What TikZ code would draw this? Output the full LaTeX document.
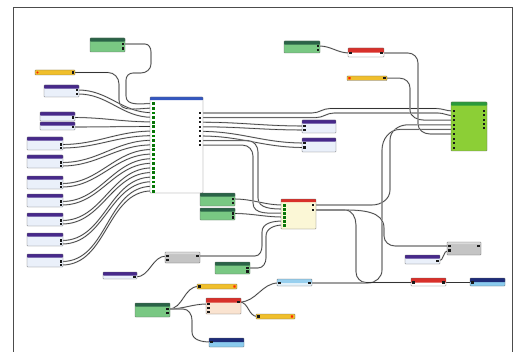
\documentclass[tikz,border=0pt]{standalone}
\usepackage{xcolor}
\usepackage{tikz}
\usetikzlibrary{backgrounds,calc}

\definecolor{hdrgreen}{HTML}{2A6347}
\definecolor{bodygreen}{HTML}{79C883}
\definecolor{hdrpurple}{HTML}{47298A}
\definecolor{bodypale}{HTML}{EAF0FA}
\definecolor{hdrblue}{HTML}{3457C0}
\definecolor{hdrlime}{HTML}{2A9A3A}
\definecolor{bodylime}{HTML}{8CCF36}
\definecolor{hdrred}{HTML}{D8302A}
\definecolor{bodycream}{HTML}{FBF7D6}
\definecolor{bodypeach}{HTML}{FAE3D0}
\definecolor{baryellow}{HTML}{F0BF2C}
\definecolor{hdrgray}{HTML}{DADADA}
\definecolor{bodygray}{HTML}{C4C4C4}
\definecolor{hdrsky}{HTML}{98D0EF}
\definecolor{bodysky}{HTML}{E2F1FA}
\definecolor{hdrnavy}{HTML}{1E2C78}
\definecolor{bodysky2}{HTML}{8ACBEE}

\begin{document}
\begin{tikzpicture}[
  x=0.05cm, y=-0.05cm,
  blk/.style={draw=black!60, line width=0.5pt, rounded corners=0.8pt, inner sep=0pt, outer sep=0pt, anchor=north west},
  hdr/.style n args={2}{path picture={\fill[#1] (path picture bounding box.north west) rectangle ([yshift=-#2]path picture bounding box.north east);}},
  wh/.style 2 args={minimum width=#1*0.05cm, minimum height=#2*0.05cm},
  greenblk/.style={blk, fill=bodygreen, hdr={hdrgreen}{5pt}},
  purpleblk/.style={blk, fill=bodypale, hdr={hdrpurple}{5pt}},
  mainblk/.style={blk, fill=white, hdr={hdrblue}{4.5pt}},
  limeblk/.style={blk, fill=bodylime, hdr={hdrlime}{5pt}},
  redwhite/.style={blk, fill=white, hdr={hdrred}{6.5pt}},
  creamblk/.style={blk, fill=bodycream, hdr={hdrred}{4.5pt}},
  peachblk/.style={blk, fill=bodypeach, hdr={hdrred}{6.5pt}},
  grayblk/.style={blk, fill=bodygray, hdr={hdrgray}{3pt}},
  skyblk/.style={blk, fill=bodysky, hdr={hdrsky}{5.5pt}},
  navyblk/.style={blk, fill=bodysky2, hdr={hdrnavy}{6pt}},
  yellowbar/.style={blk, fill=baryellow, draw=black!60},
  redend/.style={fill=red!70!orange, inner sep=0pt, minimum size=3.4pt, rounded corners=0.6pt},
  port/.style={fill=black!90, inner sep=0pt, minimum size=2.9pt},
  inport/.style={port, fill=black!80, draw=green!50!black, line width=0.4pt, minimum size=2.6pt},
  wire/.style={draw=black!80, line width=0.8pt, preaction={draw=black!22, line width=2pt}}
]
\useasboundingbox (0,0) rectangle (514,352);
\draw[black!70, line width=1.2pt] (13,352) -- (13,7) -- (512,7) -- (512,352);

% LEFT INPUT BLOCKS
\node[greenblk, wh={35}{14}] (g1) at (90,38) {};
\node[port] (g1a) at (123,44) {};
\node[port] (g1b) at (123,48.5) {};

\node[yellowbar, wh={40}{5}] (y1) at (35,70) {};
\node[redend, circle] (y1x) at (37.5,72.5) {};
\node[port] (y1a) at (73,72.5) {};

\node[purpleblk, wh={35}{12}] (p1) at (44,85) {};
\node[port] (pa1) at (77,90) {};
\node[port] (pb1) at (77,94) {};
\node[purpleblk, wh={35}{9}] (p2) at (40,112) {};
\node[port] (pa2) at (73,117.5) {};
\node[purpleblk, wh={35}{8}] (p3) at (40,122) {};
\node[port] (pa3) at (73,127) {};
\foreach \n/\y in {4/137,5/155,6/176,7/194,8/213,9/233,10/254} {
  \node[purpleblk, wh={36}{13}] (p\n) at (27,\y) {};
  \node[port] (pa\n) at (61,\y+7.5) {};
  \node[port] (pb\n) at (61,\y+11) {};
}

% MAIN BLOCK
\node[mainblk, wh={53}{96}] (main) at (150,97) {};
\foreach \i in {1,...,20} \node[inport] (mi\i) at (153,{103.5+4.6*(\i-1)}) {};
\foreach \j in {1,...,8} \node[port] (mo\j) at (200,{113+4.6*(\j-1)}) {};

% MIDDLE BLOCKS
\node[purpleblk, wh={34}{13}] (q1) at (302,120) {};
\node[port] (qa1) at (304.5,126) {};
\node[port] (qb1) at (304.5,130) {};
\node[purpleblk, wh={34}{14}] (q2) at (302,138) {};
\node[port] (qa2) at (304.5,143) {};
\node[port] (qb2) at (304.5,147.5) {};

\node[greenblk, wh={35}{13}] (gm1) at (200,193) {};
\node[port] (ma1) at (233,199) {};
\node[port] (mb1) at (233,203) {};
\node[greenblk, wh={35}{12}] (gm2) at (200,208) {};
\node[port] (ma2) at (233,213.5) {};
\node[port] (mb2) at (233,217.5) {};

\node[creamblk, wh={35}{30}] (cr) at (281,199) {};
\foreach \k in {1,...,6} \node[inport] (ci\k) at (284,{205+4*(\k-1)}) {};
\node[port] (co1) at (313,205) {};
\node[port] (co2) at (313,210) {};

% RIGHT BLOCK
\node[limeblk, wh={36}{49}] (gr) at (451,102) {};
\foreach \k in {1,...,9} \node[port] (gi\k) at (454,{111+4.6*(\k-1)}) {};
\foreach \k in {1,...,5} \node[port] (go\k) at (484,{111+4.3*(\k-1)}) {};

\node[greenblk, wh={36}{12}] (gt) at (284,41) {};
\node[port] (gta) at (318,46) {};
\node[port] (gtb) at (318,50) {};
\node[redwhite, wh={36}{9}] (rt) at (348,48) {};
\node[port] (rta) at (350.5,53) {};
\node[port] (rtb) at (381.5,53) {};
\node[yellowbar, wh={40}{4.5}] (yt) at (347,76) {};
\node[redend] (ytx) at (349.5,78.2) {};
\node[port] (yta) at (384.5,78.2) {};

% LOWER BLOCKS
\node[grayblk, wh={35}{11}] (gy) at (165,252) {};
\node[port] (gyin) at (167.5,256) {};
\node[port] (gyin2) at (167.5,260) {};
\node[port] (gyout) at (197.5,256) {};
\node[purpleblk, wh={34}{7}] (ps) at (103,272) {};
\node[port] (psout) at (134.5,277) {};
\node[greenblk, wh={35}{12}] (gb) at (215,262) {};
\node[port] (gba) at (247.5,268) {};
\node[port] (gbb) at (247.5,271.5) {};

\node[grayblk, wh={34}{13}] (gyr) at (447,242) {};
\node[port] (ra1) at (449.5,246) {};
\node[port] (ra2) at (449.5,250.5) {};
\node[port] (rout) at (478.5,246) {};
\node[purpleblk, wh={35}{9}] (pr) at (405,255) {};
\node[port] (prout) at (437.5,261) {};
\node[skyblk, wh={35}{7}] (lb) at (277,279) {};
\node[port] (lbin) at (279.5,283) {};
\node[port] (lbout) at (309.5,283) {};
\node[redwhite, wh={35}{8}] (rr) at (411,278) {};
\node[port] (rrin) at (413.5,282.5) {};
\node[port] (rrout) at (443.5,282.5) {};
\node[navyblk, wh={35}{8}] (db2) at (470,278) {};
\node[port] (dbin2) at (472.5,282.5) {};

\node[yellowbar, wh={40}{5}] (yb1) at (197,284) {};
\node[port] (yb1in) at (199.5,286.5) {};
\node[redend] (yb1x) at (234.5,286.5) {};
\node[greenblk, wh={35}{14}] (gb2) at (135,303) {};
\node[port] (gb2a) at (167.5,309) {};
\node[port] (gb2b) at (167.5,313) {};
\node[peachblk, wh={35}{16}] (rc) at (206,298) {};
\node[port] (rcin1) at (208.5,304) {};
\node[port] (rcin2) at (208.5,308) {};
\node[port] (rcin3) at (208.5,312) {};
\node[port] (rcout) at (238.5,302) {};
\node[yellowbar, wh={39}{5}] (yb2) at (256,314) {};
\node[port] (yb2in) at (258.5,316.5) {};
\node[redend] (yb2x) at (292,316.5) {};
\node[navyblk, wh={35}{9}] (db1) at (209,338) {};
\node[port] (db1in) at (211.5,342) {};

% WIRES
\begin{scope}[on background layer]
\draw[wire] (g1a) -- (145,44) to[out=0,in=90] (151,52) -- (151,64) to[out=-90,in=0] (141,73) -- (133,73) to[out=180,in=90] (126,80) -- (126,96) to[out=-90,in=180] (mi1);
\draw[wire] (y1a) -- (108,72.5) to[out=0,in=90] (119,84) -- (119,100) to[out=-90,in=180] (mi2);
\draw[wire] (pa1) to[out=0,in=180] (mi3);
\draw[wire] (pb1) to[out=0,in=180] (mi4);
\draw[wire] (pa2) to[out=0,in=180] (mi5);
\draw[wire] (pa3) to[out=0,in=180] (mi6);
\foreach \n/\r in {4/7,5/9,6/11,7/13,8/15,9/17,10/19} {
  \pgfmathtruncatemacro\s{\r+1}
  \draw[wire] (pa\n) to[out=0,in=180] (mi\r);
  \draw[wire] (pb\n) to[out=0,in=180] (mi\s);
}

\draw[wire] (mo1) -- (312,113) to[out=0,in=180] (330,108.5) -- (436,108.5) to[out=0,in=180] (gi1);
\draw[wire] (mo2) -- (316,117.6) to[out=0,in=180] (334,113) -- (438,113) to[out=0,in=180] (gi2);
\draw[wire] (mo3) to[out=0,in=180] (qa1);
\draw[wire] (mo4) to[out=0,in=180] (qb1);
\draw[wire] (mo5) to[out=0,in=180] (qa2);
\draw[wire] (mo6) to[out=0,in=180] (qb2);
\draw[wire] (mo7) -- (248,140.6) to[out=0,in=90] (258,152) -- (258,198) to[out=-90,in=180] (ci2);
\draw[wire] (mo8) -- (243,145.2) to[out=0,in=90] (253,156) -- (253,203) to[out=-90,in=180] (ci3);

\draw[wire] (ma1) to[out=0,in=180] (ci1);
\draw[wire] (ma2) to[out=0,in=180] (ci4);
\draw[wire] (gyout) -- (255,256) to[out=0,in=-90] (262,246) -- (262,232) to[out=90,in=180] (ci5);
\draw[wire] (gba) -- (258,268) to[out=0,in=-90] (266,258) -- (266,236) to[out=90,in=180] (ci6);

\draw[wire] (co1) -- (372,205) to[out=0,in=-90] (390,190) -- (390,140) to[out=90,in=180] (408,124.8) -- (gi4);
\draw[wire] (lbout) -- (368,283) to[out=0,in=-90] (382,270) -- (382,150) to[out=90,in=180] (400,129.4) -- (gi5);
\draw[wire] (rtb) -- (408,53) to[out=0,in=90] (418,63) -- (418,124) to[out=-90,in=180] (430,134) -- (gi6);
\draw[wire] (yta) -- (400,78.2) to[out=0,in=90] (410,88) -- (410,110) to[out=-90,in=180] (425,120.2) -- (gi3);
\draw[wire] (gta) to[out=0,in=180] (rta);

\draw[wire] (co2) -- (345,210) to[out=0,in=90] (384,228) -- (384,236) to[out=-90,in=180] (395,246) -- (ra1);
\draw[wire] (co2) -- (345,210) to[out=0,in=90] (356,225) -- (356,272) to[out=-90,in=180] (366,282.5) -- (rrin);
\draw[wire] (prout) to[out=0,in=180] (ra2);
\draw[wire] (rrout) -- (dbin2);

\draw[wire] (psout) to[out=0,in=180] (gyin);
\draw[wire] (gb2a) to[out=0,in=180] (yb1in);
\draw[wire] (gb2a) to[out=0,in=180] (rcin1);
\draw[wire] (gb2a) -- (183,309) to[out=0,in=90] (192,320) -- (192,332) to[out=-90,in=180] (db1in);
\draw[wire] (rcout) to[out=0,in=180] (lbin);
\draw[wire] (rcout) to[out=0,in=180] (yb2in);
\end{scope}
\end{tikzpicture}
\end{document}
